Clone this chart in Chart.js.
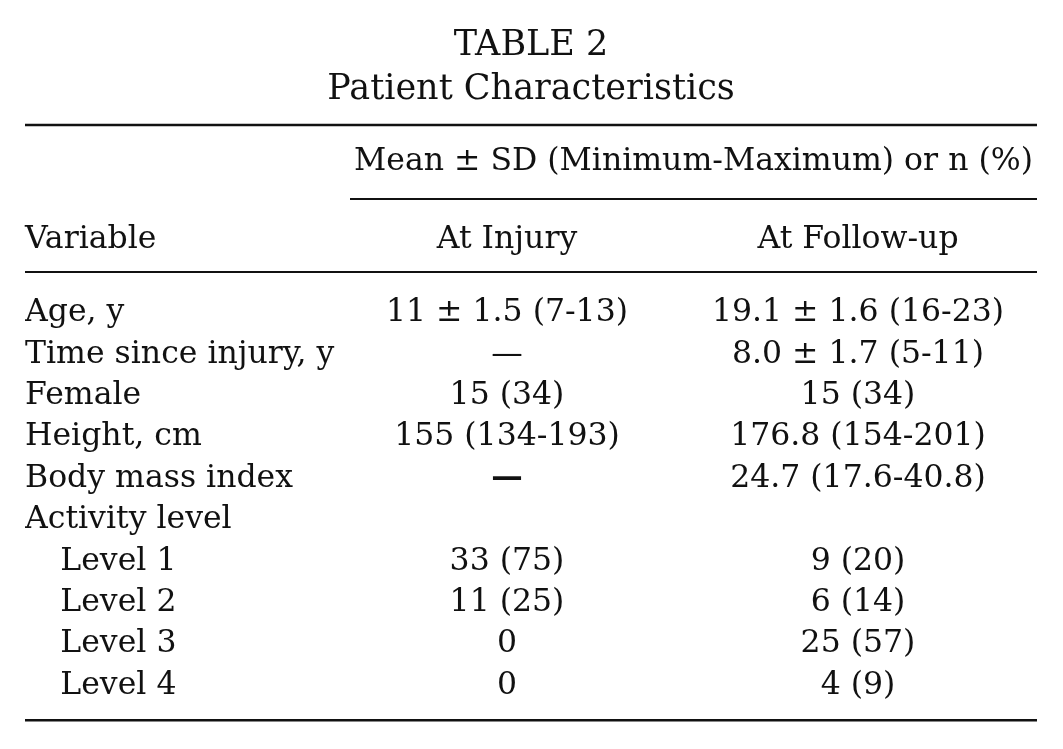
<!DOCTYPE html>
<html>
<head>
<meta charset="utf-8">
<script src="https://cdn.jsdelivr.net/npm/chart.js@4.4.1/dist/chart.umd.min.js"></script>
<style>
  html, body { margin: 0; padding: 0; background: #fff; }
  #wrap { width: 1063px; height: 749px; }
</style>
</head>
<body>
<div id="wrap"><canvas id="ch_table"></canvas></div>
<script>
// table content
const titleLines = ['TABLE 2', 'Patient Characteristics'];
const spanHeader = 'Mean \u00b1 SD (Minimum-Maximum) or n (%)';
const stubHeader = 'Variable';
const columns = ['At Injury', 'At Follow-up'];
const rowLabels = ['Age, y', 'Time since injury, y', 'Female', 'Height, cm', 'Body mass index',
  'Activity level', 'Level 1', 'Level 2', 'Level 3', 'Level 4'];
const rowIndent = [0, 0, 0, 0, 0, 0, 1, 1, 1, 1];
const atInjury = ['11 \u00b1 1.5 (7-13)', '\u2014', '15 (34)', '155 (134-193)', '\u2014',
  '', '33 (75)', '11 (25)', '0', '0'];
const atFollowUp = ['19.1 \u00b1 1.6 (16-23)', '8.0 \u00b1 1.7 (5-11)', '15 (34)', '176.8 (154-201)',
  '24.7 (17.6-40.8)', '', '9 (20)', '6 (14)', '25 (57)', '4 (9)'];
const boldCells = [[4, 0]]; // the heavy dash in BMI row

const FONT = '"DejaVu Serif", "Liberation Serif", serif';
const SIZE = 31.5;
const TITLE_SIZE = 35;
const INK = '#111';
const INDENT = '   \u2006';

/* ── plugin: title, rules, headers and cell values ───────────────── */
const tablePlugin = {
  id: 'tablePlugin',
  afterDraw(chart) {
    const { ctx, chartArea, scales } = chart;
    const x = scales.x, y = scales.y;
    const L = 25, R = 1037;
    ctx.save();
    ctx.fillStyle = INK;
    ctx.strokeStyle = INK;

    // title
    ctx.textAlign = 'center';
    ctx.textBaseline = 'alphabetic';
    ctx.font = `${TITLE_SIZE}px ${FONT}`;
    const mid = (L + R) / 2;
    ctx.fillText(titleLines[0], mid, 55);
    ctx.fillText(titleLines[1], mid, 99);

    const rule = (x0, x1, yy, w) => {
      ctx.lineWidth = w;
      ctx.beginPath(); ctx.moveTo(x0, yy); ctx.lineTo(x1, yy); ctx.stroke();
    };
    rule(L, R, 125, 2.5);

    // spanner header
    const cx0 = x.getPixelForValue(0), cx1 = x.getPixelForValue(1);
    const spanL = 350;
    ctx.font = `${SIZE}px ${FONT}`;
    ctx.textBaseline = 'middle';
    ctx.fillText(spanHeader, (spanL + R) / 2, 162);
    rule(spanL, R, 199, 2);

    // column headers
    ctx.textAlign = 'left';
    ctx.fillText(stubHeader, L, 240);
    ctx.textAlign = 'center';
    ctx.fillText(columns[0], cx0, 240);
    ctx.fillText(columns[1], cx1, 240);
    rule(L, R, 272, 2);

    // cells
    rowLabels.forEach((lab, i) => {
      const yy = y.getPixelForValue(i);
      [atInjury[i], atFollowUp[i]].forEach((v, j) => {
        if (!v) return;
        const bold = boldCells.some(([r, c]) => r === i && c === j);
        ctx.font = `${bold ? 'bold ' : ''}${SIZE}px ${FONT}`;
        ctx.fillText(v, j === 0 ? cx0 : cx1, yy);
      });
    });

    rule(L, R, chartArea.bottom + 14, 2.5);
    ctx.restore();
  }
};

const chart = new Chart(document.getElementById('ch_table').getContext('2d'), {
  type: 'bar',
  data: { labels: rowLabels, datasets: [{ data: rowLabels.map(() => null) }] },
  options: {
    indexAxis: 'y',
    responsive: true,
    maintainAspectRatio: false,
    animation: false,
    events: [],
    layout: { padding: { left: 25, right: 205, top: 292.3, bottom: 42.7 } },
    plugins: { legend: { display: false }, tooltip: { enabled: false } },
    scales: {
      x: {
        type: 'category',
        labels: columns,
        offset: false,
        display: false
      },
      y: {
        type: 'category',
        offset: true,
        grid: { display: false },
        border: { display: false },
        afterFit: s => { s.width = 482; },
        ticks: {
          autoSkip: false,
          crossAlign: 'far',
          padding: 0,
          color: INK,
          font: { family: FONT, size: SIZE },
          callback: (v, i) => (rowIndent[i] ? INDENT : '') + rowLabels[i]
        }
      }
    }
  },
  plugins: [tablePlugin]
});
</script>
</body>
</html>
